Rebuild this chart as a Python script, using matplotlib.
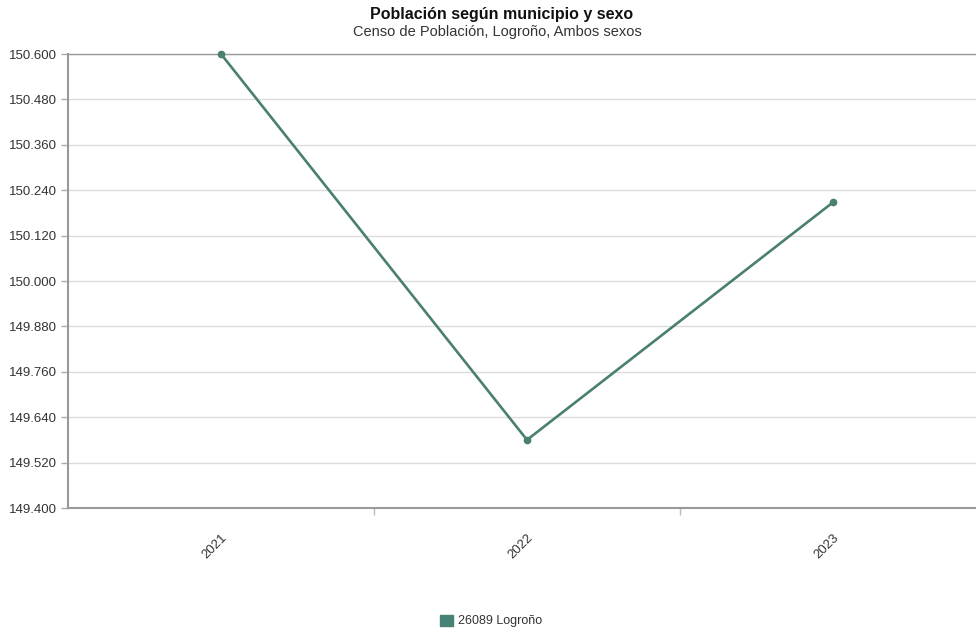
import matplotlib.pyplot as plt
from matplotlib.ticker import FuncFormatter, FixedLocator

plt.rcParams["font.family"] = ["Liberation Sans", "DejaVu Sans"]

# data
years = ["2021", "2022", "2023"]
poblacion = [150600, 149580, 150208]
serie = "26089 Logroño"
y_ticks = [149400, 149520, 149640, 149760, 149880, 150000, 150120, 150240, 150360, 150480, 150600]

color = "#4a7f72"


def miles(v, pos):
    return f"{int(round(v)):,}".replace(",", ".")


fig = plt.figure(figsize=(9.76, 6.35), dpi=100)
ax = fig.add_axes([68 / 976, 1 - 508 / 635, 918 / 976, (508 - 54) / 635])

x = list(range(len(years)))
ax.plot(x, poblacion, color=color, lw=1.9, marker="o", ms=4.5,
        solid_capstyle="round", clip_on=False, zorder=3)

ax.set_xlim(-0.5, len(years) - 0.5)
ax.set_ylim(y_ticks[0], y_ticks[-1])
ax.set_yticks(y_ticks)
ax.yaxis.set_major_formatter(FuncFormatter(miles))
ax.grid(axis="y", color="#dcdcdc", lw=1)
ax.set_axisbelow(True)

ax.set_xticks(x)
ax.set_xticklabels(years, rotation=45, ha="right", va="top", rotation_mode="anchor")
ax.tick_params(axis="x", which="major", length=0, pad=17, labelsize=9.5, labelcolor="#333333")
ax.xaxis.set_minor_locator(FixedLocator([0.5, 1.5]))
ax.tick_params(axis="x", which="minor", length=5, color="#bbbbbb", width=1)
ax.tick_params(axis="y", length=5, color="#aaaaaa", width=1, pad=3, labelsize=9.5, labelcolor="#333333")

for side in ["left", "bottom", "top"]:
    ax.spines[side].set_color("#999999")
    ax.spines[side].set_linewidth(1.5)
ax.spines["top"].set_linewidth(1.0)
ax.spines["right"].set_visible(False)

fig.text(0.514, 1 - 15 / 635, "Población según municipio y sexo", ha="center", va="center",
         fontsize=11.5, fontweight="bold", color="#111111")
fig.text(0.510, 1 - 32 / 635, "Censo de Población, Logroño, Ambos sexos", ha="center", va="center",
         fontsize=10.5, color="#333333")

handle = plt.Rectangle((0, 0), 1, 1, color="#468275")
fig.legend([handle], [serie], loc="center", bbox_to_anchor=(0.503, 1 - 621 / 635),
           frameon=False, fontsize=9, handlelength=1.0, handleheight=1.0, handletextpad=0.4,
           labelcolor="#333333")

fig.savefig("out.png", dpi=100)
